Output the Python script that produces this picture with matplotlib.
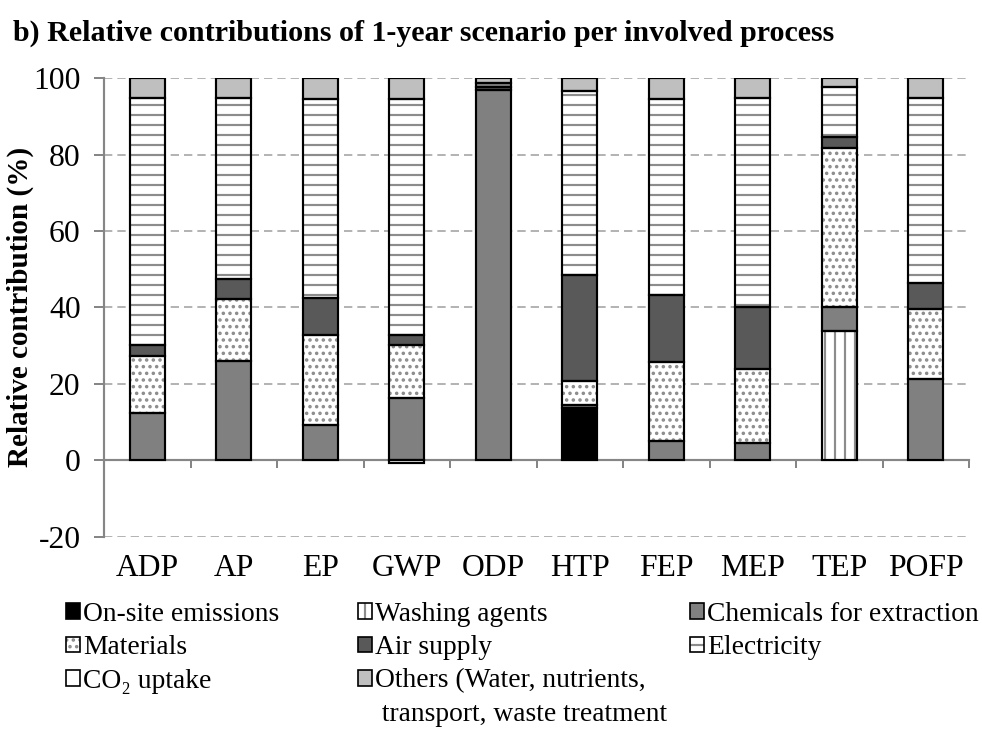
import numpy as np
import matplotlib
matplotlib.use("Agg")
import matplotlib.pyplot as plt
from matplotlib.patches import Patch

# ================= DATA =================
categories = ['ADP', 'AP', 'EP', 'GWP', 'ODP', 'HTP', 'FEP', 'MEP', 'TEP', 'POFP']

onsite    = [0, 0, 0, 0, 0, 13.7, 0, 0, 0, 0]
washing   = [0, 0, 0, 0, 0, 0, 0, 0, 33.9, 0]
chemicals = [12.4, 25.9, 9.2, 16.4, 97.0, 0.7, 5.0, 4.5, 6.3, 21.2]
materials = [14.9, 16.3, 23.6, 13.7, 0, 6.3, 20.8, 19.3, 41.6, 18.4]
air       = [2.8, 5.2, 9.8, 2.7, 0.8, 27.8, 17.4, 16.4, 2.7, 6.9]
elec      = [64.8, 47.5, 51.9, 61.7, 1.0, 48.2, 51.3, 54.7, 13.1, 48.4]
others    = [5.1, 5.1, 5.5, 5.5, 1.2, 3.3, 5.5, 5.1, 2.4, 5.1]
co2       = [0, 0, 0, -0.6, 0, 0, 0, 0, 0, 0]

yticks = [-20, 0, 20, 40, 60, 80, 100]
# ========================================

plt.rcParams['font.family'] = ['Liberation Serif', 'DejaVu Serif']
plt.rcParams['hatch.linewidth'] = 1.3
plt.rcParams['axes.unicode_minus'] = False

GREY_AX = '#868686'
HATCH_C = '#8c8c8c'

OTHERS_LABEL = 'Others (Water, nutrients,'
OTHERS_CONT = ' transport, waste treatment'

# (label, values, facecolor, hatch)
series = [
    ('On-site emissions', onsite, 'black', None),
    ('Washing agents', washing, 'white', '||'),
    ('Chemicals for extraction', chemicals, '#808080', None),
    ('Materials', materials, 'white', '...'),
    ('Air supply', air, '#595959', None),
    ('Electricity', elec, 'white', '--'),
    ('CO\u2082 uptake', co2, 'white', None),
    (OTHERS_LABEL, others, '#bfbfbf', None),
]

fig = plt.figure(figsize=(982 / 120, 736 / 120), dpi=120)
ax = fig.add_axes([104 / 982, 1 - 536.6 / 736, 865 / 982, (536.6 - 78.3) / 736])

x = np.arange(len(categories))
width = 0.4
pos_bottom = np.zeros(len(categories))
neg_bottom = np.zeros(len(categories))
handles = {}

for label, vals, fc, hatch in series:
    vals = np.array(vals, dtype=float)
    idx = np.nonzero(vals)[0]
    bottoms = np.where(vals >= 0, pos_bottom, neg_bottom)
    if len(idx):
        # hatch drawn in grey, outline drawn separately in black
        ax.bar(x[idx], vals[idx], width, bottom=bottoms[idx], color=fc,
               hatch=hatch, edgecolor=HATCH_C, linewidth=0, zorder=2)
        ax.bar(x[idx], vals[idx], width, bottom=bottoms[idx], fill=False,
               edgecolor='black', linewidth=1.3, zorder=3)
    pos_bottom += np.clip(vals, 0, None)
    neg_bottom += np.clip(vals, None, 0)
    handles[label] = (Patch(facecolor=fc, hatch=hatch, edgecolor=HATCH_C, linewidth=0),
                      Patch(fill=False, edgecolor='black', linewidth=1.0))
# wrapped second line of the "Others" entry, no marker
handles[OTHERS_CONT] = Patch(visible=False)

ax.set_xlim(-0.5, len(categories) - 0.5)
ax.set_ylim(-20, 100)
ax.set_yticks(yticks)
ax.tick_params(axis='y', direction='out', length=6, width=1.2, color=GREY_AX,
               labelsize=19, pad=8)
ax.yaxis.grid(True, color='#a6a6a6', linewidth=1.0, linestyle=(0, (5, 3)))
ax.set_axisbelow(True)

for s in ['top', 'right']:
    ax.spines[s].set_visible(False)
ax.spines['left'].set_color(GREY_AX)
ax.spines['left'].set_linewidth(1.3)
ax.spines['bottom'].set_position(('data', 0))
ax.spines['bottom'].set_color(GREY_AX)
ax.spines['bottom'].set_linewidth(1.3)
ax.spines['bottom'].set_zorder(1.5)

# boundary ticks on the zero line, category labels as minor ticks further down
ax.set_xticks(np.append(x[1:] - 0.5, len(categories) - 0.5), [''] * len(categories))
ax.set_xticks(x, categories, minor=True)
ax.tick_params(axis='x', which='major', direction='out', length=5, width=1.2, color=GREY_AX)
ax.tick_params(axis='x', which='minor', length=0, labelsize=19, pad=56)

fig.text(20 / 982, 1 - 307 / 736, 'Relative contribution (%)', rotation=90,
         fontsize=17.5, fontweight='bold', va='center', ha='center')

fig.text(13 / 982, 1 - 33 / 736,
         'b) Relative contributions of 1-year scenario per involved process',
         fontsize=18, fontweight='bold', va='center', ha='left')

# legend: three columns laid out like the original
cols = [
    ['On-site emissions', 'Materials', 'CO\u2082 uptake'],
    ['Washing agents', 'Air supply', OTHERS_LABEL, OTHERS_CONT],
    ['Chemicals for extraction', 'Electricity'],
]
col_x = [66, 358, 690]
for cx, labs in zip(col_x, cols):
    fig.legend([handles[l] for l in labs], labs, loc='upper left',
               bbox_to_anchor=(cx / 982, 1 - 602 / 736), frameon=False,
               fontsize=16.5, handlelength=0.5, handleheight=0.5,
               handletextpad=0.12, labelspacing=0.3, borderpad=0,
               borderaxespad=0)

fig.savefig('out.png', dpi=120)
